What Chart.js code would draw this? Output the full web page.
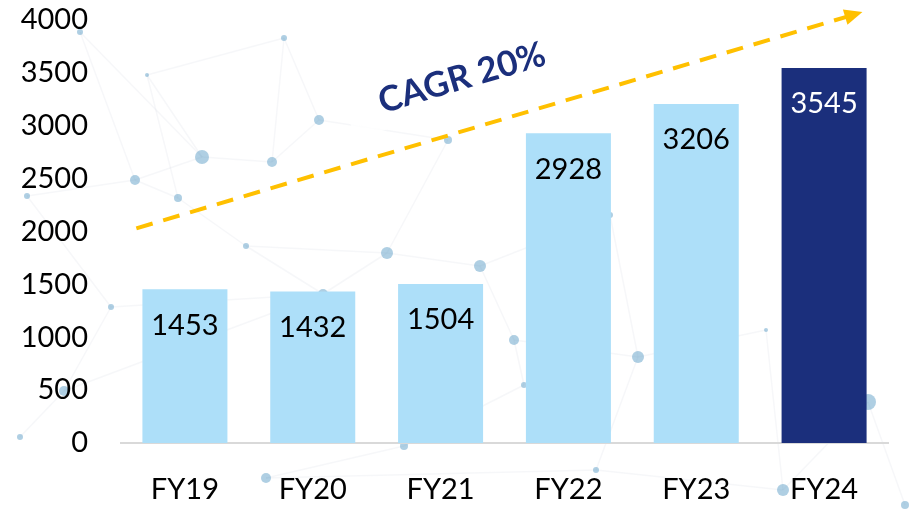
<!DOCTYPE html>
<html>
<head>
<meta charset="utf-8">
<script src="https://cdn.jsdelivr.net/npm/chart.js@4"></script>
<style>
  html, body { margin: 0; padding: 0; background: #fff; }
  #wrap { width: 914px; height: 513px; position: relative; }
</style>
</head>
<body>
<div id="wrap"><canvas id="revchart"></canvas></div>
<script>
// revenue by fiscal year
const years = ['FY19', 'FY20', 'FY21', 'FY22', 'FY23', 'FY24']
const revenue = [1453, 1432, 1504, 2928, 3206, 3545]
const yTicks = [0, 500, 1000, 1500, 2000, 2500, 3000, 3500, 4000]
const cagrLabel = 'CAGR 20%'
// trend arrow, in value units: [category offset, value]
const arrowFrom = [-0.38, 2030]
const arrowTo = [5.3, 4075]

const LIGHT = '#addff9'
const DARK = '#1b2f7c'

// faint network drawing behind the chart (decoration only)
const bgNodes = [
  [80, 32, 3], [147, 75, 2], [202, 157, 7], [135, 180, 5], [178, 198, 4], [272, 162, 5],
  [319, 120, 5], [284, 38, 3], [246, 246, 3], [387, 253, 6], [448, 140, 4], [480, 266, 6],
  [323, 294, 5], [111, 307, 3], [514, 340, 5], [638, 357, 6], [524, 385, 3], [404, 446, 4],
  [20, 437, 3], [64, 391, 5], [266, 478, 5], [596, 470, 3], [783, 490, 6], [868, 402, 8],
  [905, 505, 4], [766, 330, 2], [610, 215, 3], [27, 196, 3]
]
const bgEdges = [
  [0, 2], [0, 3], [1, 2], [1, 4], [2, 3], [2, 5], [3, 4], [4, 8], [5, 6], [5, 7], [6, 7],
  [7, 1], [8, 9], [9, 10], [9, 11], [10, 6], [11, 14], [12, 8], [12, 13], [13, 19], [14, 16],
  [14, 15], [15, 26], [16, 17], [17, 20], [18, 19], [19, 12], [20, 21], [21, 15], [22, 23],
  [23, 24], [25, 22], [25, 15], [27, 3], [27, 13], [9, 12], [11, 26], [22, 21]
]

const backdrop = {
  id: 'backdrop',
  beforeDraw(chart) {
    const ctx = chart.ctx
    ctx.save()
    ctx.strokeStyle = 'rgba(200,205,215,0.16)'
    ctx.lineWidth = 1.5
    bgEdges.forEach(([a, b]) => {
      ctx.beginPath()
      ctx.moveTo(bgNodes[a][0], bgNodes[a][1])
      ctx.lineTo(bgNodes[b][0], bgNodes[b][1])
      ctx.stroke()
    })
    ctx.fillStyle = 'rgba(95,160,200,0.5)'
    bgNodes.forEach(([x, y, r]) => {
      ctx.beginPath()
      ctx.arc(x, y, r, 0, Math.PI * 2)
      ctx.fill()
    })
    ctx.restore()
  }
}

const valueLabels = {
  id: 'valueLabels',
  afterDatasetsDraw(chart) {
    const ctx = chart.ctx
    const meta = chart.getDatasetMeta(0)
    ctx.save()
    ctx.font = '29px Lato'
    ctx.textAlign = 'center'
    ctx.textBaseline = 'middle'
    meta.data.forEach((bar, i) => {
      ctx.fillStyle = i === revenue.length - 1 ? '#ffffff' : '#000000'
      ctx.fillText(String(revenue[i]), bar.x, bar.y + 36)
    })
    ctx.restore()
  }
}

const trendArrow = {
  id: 'trendArrow',
  afterDraw(chart) {
    const xs = chart.scales.x
    const ys = chart.scales.y
    const step = xs.getPixelForValue(1) - xs.getPixelForValue(0)
    const x1 = xs.getPixelForValue(0) + arrowFrom[0] * step
    const y1 = ys.getPixelForValue(arrowFrom[1])
    const x2 = xs.getPixelForValue(0) + arrowTo[0] * step
    const y2 = ys.getPixelForValue(arrowTo[1])
    const ang = Math.atan2(y2 - y1, x2 - x1)
    const ctx = chart.ctx

    // white band behind the label
    ctx.save()
    ctx.translate(462, 78)
    ctx.rotate(ang)
    ctx.fillStyle = 'rgba(255,255,255,0.85)'
    ctx.fillRect(-120, -34, 330, 62)
    ctx.font = 'bold 35px Lato'
    ctx.fillStyle = DARK
    ctx.textAlign = 'center'
    ctx.textBaseline = 'middle'
    ctx.fillText(cagrLabel, 0, 0)
    ctx.restore()

    ctx.save()
    ctx.strokeStyle = '#ffc000'
    ctx.fillStyle = '#ffc000'
    ctx.lineWidth = 4
    ctx.setLineDash([17, 11])
    ctx.beginPath()
    ctx.moveTo(x1, y1)
    ctx.lineTo(x2 - 14 * Math.cos(ang), y2 - 14 * Math.sin(ang))
    ctx.stroke()
    ctx.setLineDash([])
    ctx.translate(x2, y2)
    ctx.rotate(ang)
    ctx.beginPath()
    ctx.moveTo(0, 0)
    ctx.lineTo(-18, -8)
    ctx.lineTo(-18, 8)
    ctx.closePath()
    ctx.fill()
    ctx.restore()
  }
}

const ctx = document.getElementById('revchart').getContext('2d')
const chart = new Chart(ctx, {
  type: 'bar',
  data: {
    labels: years,
    datasets: [{
      data: revenue,
      backgroundColor: revenue.map((v, i) => i === revenue.length - 1 ? DARK : LIGHT),
      categoryPercentage: 1,
      barPercentage: 0.665,
    }]
  },
  options: {
    responsive: true,
    maintainAspectRatio: false,
    animation: false,
    layout: { padding: { top: 20, right: 26, bottom: 0, left: 0 } },
    plugins: {
      legend: { display: false },
      tooltip: { enabled: false },
    },
    scales: {
      x: {
        grid: { display: false, drawTicks: false },
        border: { display: true, color: '#d9d9d9', width: 2 },
        ticks: { color: '#000', font: { family: 'Lato', size: 29 }, padding: 29 },
        afterFit: (s) => { s.height = 70; s.paddingLeft = 0; s.paddingRight = 0 },
      },
      y: {
        min: 0,
        max: 4000,
        grid: { display: false, drawTicks: false },
        border: { display: false },
        afterBuildTicks: (s) => { s.ticks = yTicks.map(v => ({ value: v })) },
        ticks: {
          color: '#000',
          font: { family: 'Lato', size: 29 },
          padding: 33,
          callback: (v) => String(v),
        },
        afterFit: (s) => { s.width = 121; s.paddingTop = 0; s.paddingBottom = 0 },
      }
    }
  },
  plugins: [backdrop, valueLabels, trendArrow]
})
</script>
</body>
</html>
